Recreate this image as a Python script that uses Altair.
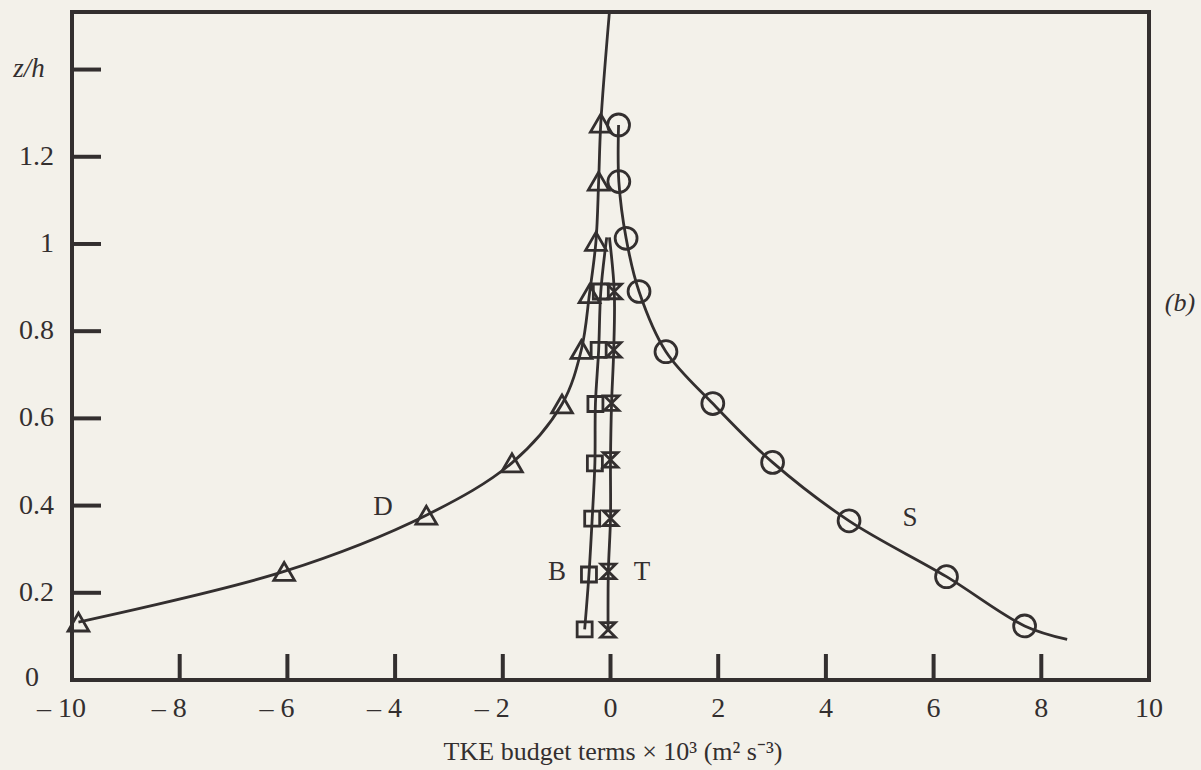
import altair as alt
import pandas as pd

# ---- TKE budget profiles (terms x 10^3, m^2 s^-3) against z/h ----
Z_TOP = 1.532

# Dissipation D (triangles)
d_x = [-9.88, -6.06, -3.42, -1.83, -0.90, -0.54, -0.39, -0.27, -0.22, -0.18]
d_z = [0.133, 0.249, 0.378, 0.498, 0.633, 0.758, 0.886, 1.006, 1.144, 1.277]
d_line_x = d_x + [-0.02]
d_line_z = d_z + [Z_TOP]

# Shear production S (circles)
s_x = [7.69, 6.24, 4.43, 3.01, 1.90, 1.03, 0.53, 0.29, 0.155, 0.15]
s_z = [0.124, 0.237, 0.365, 0.499, 0.634, 0.753, 0.891, 1.013, 1.143, 1.273]
s_line_x = [8.48] + s_x
s_line_z = [0.093] + s_z

# Buoyancy B (squares)
b_x = [-0.48, -0.40, -0.34, -0.29, -0.28, -0.22, -0.18]
b_z = [0.116, 0.242, 0.370, 0.497, 0.633, 0.757, 0.891]
b_line_x = b_x + [-0.07]
b_line_z = b_z + [1.015]

# Turbulent transport T (hourglass)
t_x = [-0.045, -0.04, 0.0, 0.0, 0.02, 0.06, 0.07]
t_z = [0.115, 0.249, 0.371, 0.505, 0.635, 0.757, 0.891]
t_line_x = t_x + [-0.02]
t_line_z = t_z + [1.015]

# Axes
x_tick_vals = [-8, -6, -4, -2, 0, 2, 4, 6, 8]
x_label_vals = [-10, -8, -6, -4, -2, 0, 2, 4, 6, 8, 10]
y_tick_vals = [0.2, 0.4, 0.6, 0.8, 1.0, 1.2, 1.4]
y_label_vals = [0.2, 0.4, 0.6, 0.8, 1.0, 1.2]
y_label_text = ["0.2", "0.4", "0.6", "0.8", "1", "1.2"]

W, H = 1077, 668
INK = "#332f2f"
PAPER = "#f3f1ea"
SERIF = "Liberation Serif"

x_scale = alt.Scale(domain=[-10, 10], nice=False, zero=False)
y_scale = alt.Scale(domain=[0, Z_TOP], nice=False, zero=False)


def X(field="x"):
    return alt.X(f"{field}:Q", scale=x_scale, axis=None)


def Y(field="z"):
    return alt.Y(f"{field}:Q", scale=y_scale, axis=None)


def profile(name, xs, zs):
    return pd.DataFrame({"x": xs, "z": zs, "term": name, "k": range(len(xs))})


lines_df = pd.concat([
    profile("D", d_line_x, d_line_z),
    profile("S", s_line_x, s_line_z),
    profile("B", b_line_x, b_line_z),
    profile("T", t_line_x, t_line_z),
])

curves = alt.Chart(lines_df).mark_line(
    interpolate="catmull-rom", color=INK, strokeWidth=2.8
).encode(x=X(), y=Y(), detail="term:N", order="k:Q")


def markers(xs, zs, shape, size):
    return alt.Chart(pd.DataFrame({"x": xs, "z": zs})).mark_point(
        shape=shape, size=size, filled=False, stroke=INK, strokeWidth=2.8, opacity=1
    ).encode(x=X(), y=Y())


tri = markers(d_x, d_z, "triangle-up", 430)
circ = markers(s_x, s_z, "circle", 480)
sq = markers(b_x, b_z, "square", 225)
hourglass = markers(t_x, t_z, "M-1,-1L1,-1L-1,1L1,1Z", 210)

# inward tick marks
x_ticks = alt.Chart(pd.DataFrame({"x": x_tick_vals})).mark_rule(
    color=INK, strokeWidth=4
).encode(x=X(), y=alt.value(H), y2=alt.value(H - 26))

y_ticks = alt.Chart(pd.DataFrame({"z": y_tick_vals})).mark_rule(
    color=INK, strokeWidth=4
).encode(y=Y(), x=alt.value(0), x2=alt.value(29))

# tick labels
x_lab_df = pd.DataFrame({
    "x": x_label_vals,
    "t": [("\u2013 " + str(abs(v))) if v < 0 else str(v) for v in x_label_vals],
})
x_labels_pos = alt.Chart(x_lab_df).transform_filter("datum.x >= 0").mark_text(
    font=SERIF, fontSize=28, color=INK, align="center", baseline="middle"
).encode(x=X(), y=alt.value(H + 29), text="t:N")
x_labels_neg = alt.Chart(x_lab_df).transform_filter("datum.x < 0").mark_text(
    font=SERIF, fontSize=28, color=INK, align="center", baseline="middle", dx=-10.5
).encode(x=X(), y=alt.value(H + 29), text="t:N")

y_labels = alt.Chart(pd.DataFrame({"z": y_label_vals, "t": y_label_text})).mark_text(
    font=SERIF, fontSize=28, color=INK, align="right", baseline="middle"
).encode(y=Y(), x=alt.value(-18), text="t:N")


def note(text, px, py, size=27, style="normal", align="center"):
    return alt.Chart(pd.DataFrame({"t": [text]})).mark_text(
        font=SERIF, fontSize=size, fontStyle=style, color=INK,
        align=align, baseline="middle"
    ).encode(x=alt.value(px), y=alt.value(py), text="t:N")


labels = [
    note("0", -40, 666, size=28),
    note("z/h", -43, 57, size=27, style="italic"),
    note("D", 311, 495),
    note("B", 485, 560),
    note("T", 570, 560),
    note("S", 838, 506),
    note("(b)", 1108, 291, size=26, style="italic"),
    note("TKE budget terms \u00d7 10\u00b3 (m\u00b2 s\u207b\u00b3)", 541, 740, size=26),
]

chart = alt.layer(
    curves, tri, circ, sq, hourglass,
    x_ticks, y_ticks, x_labels_pos, x_labels_neg, y_labels, *labels
).properties(
    width=W, height=H,
    autosize=alt.AutoSizeParams(type="none"),
    padding={"left": 72, "top": 12, "right": 52, "bottom": 90},
    background=PAPER,
).configure_view(stroke=INK, strokeWidth=4)

chart.save("out.html", embed_options={"renderer": "svg", "actions": False})
